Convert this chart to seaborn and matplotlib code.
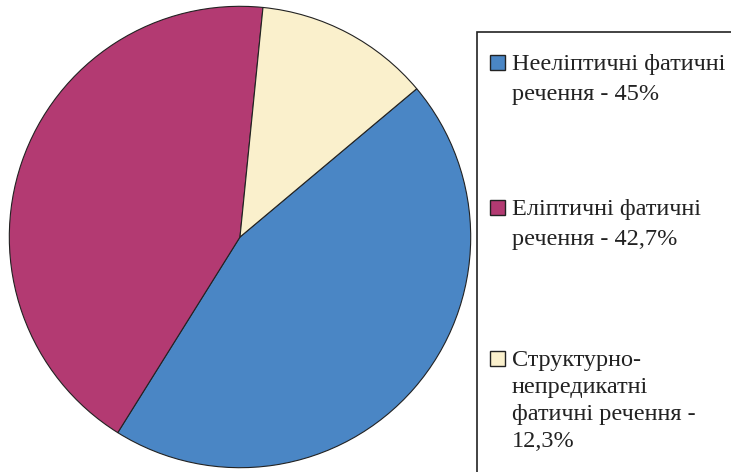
#Pie chart: types of phatic sentences

#importing necessary libraries
import matplotlib
matplotlib.use('Agg')
import matplotlib.pyplot as plt
import seaborn as sns
from matplotlib.patches import Rectangle

#data
labels = [['Нееліптичні фатичні', 'речення - 45%'],
          ['Еліптичні фатичні', 'речення - 42,7%'],
          ['Структурно-', 'непредикатні', 'фатичні речення -', '12,3%']]
shares = [45.0, 42.7, 12.3]
colors = ['#4a86c5', '#b33a72', '#faf0cc']

sns.set_style('white')
plt.rcParams['font.family'] = ['Liberation Serif', 'DejaVu Serif']

fig = plt.figure(figsize=(7.31, 4.72), dpi=100)
W, H = 731, 472

#pie axes, centre (240, 237), radius 233 px
cx, cy, r = 240, 237, 233
ax = fig.add_axes([(cx - r) / W, (H - cy - r) / H, 2 * r / W, 2 * r / H])
wedges, _ = ax.pie(shares, colors=colors, startangle=40, counterclock=False,
                   radius=1, wedgeprops={'edgecolor': '#222222', 'linewidth': 0.8})
ax.set_xlim(-1.01, 1.01)
ax.set_ylim(-1.01, 1.01)
ax.set_aspect('equal')
ax.axis('off')

#legend frame runs off the right and bottom edges
fig.patches.append(Rectangle((477 / W, -0.1), 0.5, (H - 32) / H + 0.1,
                             transform=fig.transFigure, facecolor='white',
                             edgecolor='#222222', linewidth=1.2, zorder=0))

#legend entries: first-line baselines in px from top, line step
first_base = [70, 215, 366]
steps = [30, 30, 27]
for lab, col, b0, st in zip(labels, colors, first_base, steps):
    fig.patches.append(Rectangle((490 / W, 1 - b0 / H), 15 / W, 15 / H,
                                 transform=fig.transFigure, facecolor=col,
                                 edgecolor='#222222', linewidth=1.0))
    for k, line in enumerate(lab):
        fig.text(512 / W, 1 - (b0 + k * st) / H, line, fontsize=17.5,
                 color='#222222', ha='left', va='baseline')

fig.savefig('out.png', dpi=100)
